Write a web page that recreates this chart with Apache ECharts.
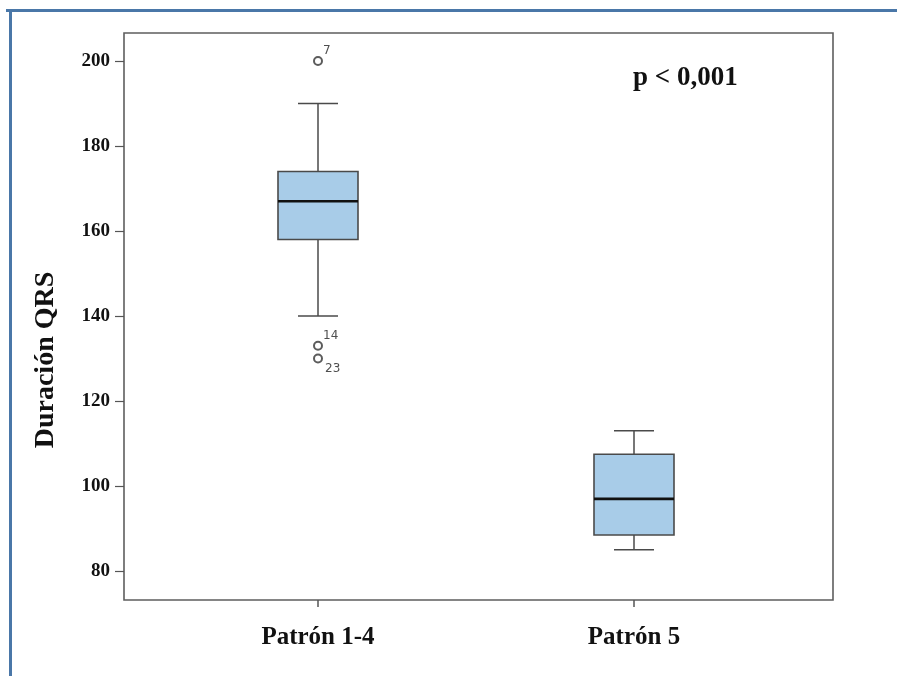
<!DOCTYPE html>
<html>
<head>
<meta charset="utf-8">
<script src="https://cdn.jsdelivr.net/npm/echarts@6/dist/echarts.min.js"></script>
<style>
html,body{margin:0;padding:0;background:#fff;}
#c{width:897px;height:676px;}
</style>
</head>
<body>
<div id="c"></div>
<script>
// ---- data ----
const categories = ['Patrón 1-4', 'Patrón 5'];
// [low whisker, Q1, median, Q3, high whisker]
const boxValues = [
  [140, 158, 167, 174, 190],
  [85, 88.5, 97, 107.5, 113]
];
const outlierCat = [0, 0, 0];
const outlierVal = [200, 133, 130];
const outlierLbl = ['7', '14', '23'];
const yTicks = [80, 100, 120, 140, 160, 180, 200];
const yTitle = 'Duración QRS';
const pText = 'p < 0,001';

const Y_MIN = 73.2, Y_MAX = 206.6;
const serif = '"Liberation Serif", "DejaVu Serif", serif';

const boxData = boxValues.map((b, i) => [i].concat(b));
const outlierData = outlierVal.map((v, i) => {
  const pos = i === 2 ? [12, 9] : [10, -11];
  return {
    value: [outlierCat[i], v],
    label: { show: true, formatter: outlierLbl[i], position: pos }
  };
});

const BOX_W = 80, CAP_W = 40;

const chart = echarts.init(document.getElementById('c'), null, { renderer: 'canvas' });
chart.setOption({
  animation: false,
  backgroundColor: '#fff',
  grid: [
    { left: 124, right: 64, top: 33, bottom: 76, show: true, borderColor: '#5e5e5e', borderWidth: 1.6, backgroundColor: 'transparent' },
    { left: 160, right: 105, top: 33, bottom: 76 }
  ],
  xAxis: [
    { gridIndex: 0, type: 'value', show: false, min: 0, max: 1 },
    {
      gridIndex: 1, type: 'category', data: categories, boundaryGap: true,
      axisLine: { show: false },
      axisTick: { show: true, alignWithLabel: true, length: 7, lineStyle: { color: '#555', width: 1.5 } },
      axisLabel: { margin: 25, fontFamily: serif, fontWeight: 'bold', fontSize: 25, color: '#111' },
      splitLine: { show: false }
    }
  ],
  yAxis: [
    {
      gridIndex: 0, type: 'value', min: Y_MIN, max: Y_MAX,
      axisLine: { show: false },
      axisTick: { show: true, length: 9, customValues: yTicks, lineStyle: { color: '#555', width: 1.2 } },
      axisLabel: { margin: 14, customValues: yTicks, fontFamily: serif, fontWeight: 'bold', fontSize: 19, color: '#111' },
      splitLine: { show: false }
    },
    { gridIndex: 1, type: 'value', min: Y_MIN, max: Y_MAX, show: false }
  ],
  series: [
    {
      type: 'custom', xAxisIndex: 1, yAxisIndex: 1,
      data: boxData,
      encode: { x: 0, y: [1, 2, 3, 4, 5] },
      renderItem: function (params, api) {
        const x = api.value(0);
        const lo = api.coord([x, api.value(1)]);
        const q1 = api.coord([x, api.value(2)]);
        const md = api.coord([x, api.value(3)]);
        const q3 = api.coord([x, api.value(4)]);
        const hi = api.coord([x, api.value(5)]);
        const cx = lo[0];
        const wl = { stroke: '#4a4a4a', lineWidth: 1.5 };
        return {
          type: 'group',
          children: [
            { type: 'line', shape: { x1: cx, y1: hi[1], x2: cx, y2: q3[1] }, style: wl },
            { type: 'line', shape: { x1: cx, y1: q1[1], x2: cx, y2: lo[1] }, style: wl },
            { type: 'line', shape: { x1: cx - CAP_W / 2, y1: hi[1], x2: cx + CAP_W / 2, y2: hi[1] }, style: wl },
            { type: 'line', shape: { x1: cx - CAP_W / 2, y1: lo[1], x2: cx + CAP_W / 2, y2: lo[1] }, style: wl },
            { type: 'rect', shape: { x: cx - BOX_W / 2, y: q3[1], width: BOX_W, height: q1[1] - q3[1] },
              style: { fill: '#a8cce8', stroke: '#4a4a4a', lineWidth: 1.6 } },
            { type: 'line', shape: { x1: cx - BOX_W / 2, y1: md[1], x2: cx + BOX_W / 2, y2: md[1] },
              style: { stroke: '#111', lineWidth: 2.6 } }
          ]
        };
      }
    },
    {
      type: 'scatter', xAxisIndex: 1, yAxisIndex: 1,
      data: outlierData,
      symbol: 'emptyCircle', symbolSize: 8,
      itemStyle: { color: '#333', borderColor: '#333', borderWidth: 1.3 },
      label: { fontFamily: '"DejaVu Sans", sans-serif', fontSize: 12, color: '#222' },
      z: 6
    }
  ],
  graphic: [
    { type: 'line', shape: { x1: 6, y1: 10.5, x2: 897, y2: 10.5 }, style: { stroke: '#4a77a8', lineWidth: 3 } },
    { type: 'line', shape: { x1: 10.5, y1: 9, x2: 10.5, y2: 676 }, style: { stroke: '#4a77a8', lineWidth: 3 } },
    {
      type: 'text', x: 46, y: 360, rotation: Math.PI / 2,
      style: { text: yTitle, fontFamily: serif, fontWeight: 'bold', fontSize: 28, fill: '#111', align: 'center', verticalAlign: 'middle' }
    },
    {
      type: 'text', left: 633, top: 65,
      style: { text: pText, fontFamily: serif, fontWeight: 'bold', fontSize: 27, fill: '#111' }
    }
  ]
});
</script>
</body>
</html>
